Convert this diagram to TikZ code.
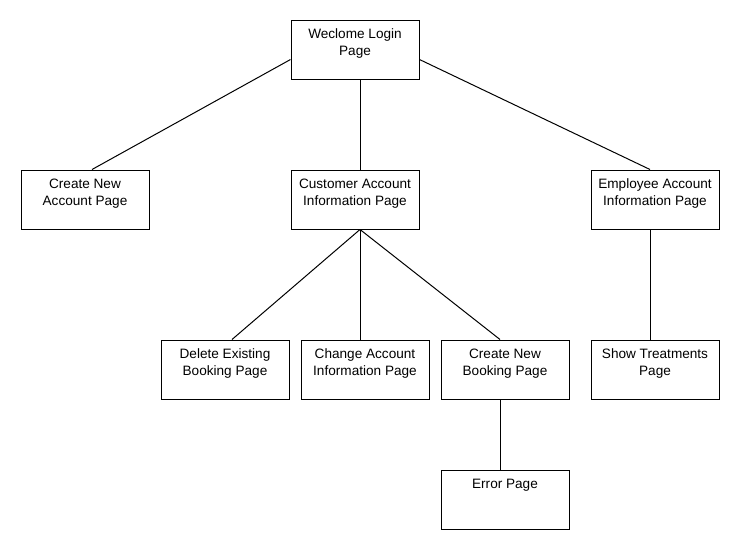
\documentclass[tikz,border=0pt]{standalone}
\usepackage{fontspec}
\setmainfont{Liberation Sans}
\usepackage{tikz}

\newcommand{\pagetext}[1]{\parbox[c][59pt][t]{128pt}{\centering\rule{0pt}{18pt}#1}}
\tikzset{pagebox/.style={draw,inner sep=0pt,line width=1pt}}

\begin{document}
\begin{tikzpicture}[x=1pt,y=-1pt,font=\fontsize{13.6}{17}\selectfont]
\useasboundingbox (0,0) rectangle (740,550);

\begin{scope}[line width=1pt]
\node[pagebox] (login) at (355,49.5) {\pagetext{Weclome Login\\Page}};
\node[pagebox] (newacct) at (85,199.5) {\pagetext{Create New\\Account Page}};
\node[pagebox] (custinfo) at (355,199.5) {\pagetext{Customer Account\\Information Page}};
\node[pagebox] (empinfo) at (655,199.5) {\pagetext{Employee Account\\Information Page}};
\node[pagebox] (delbook) at (225,369.5) {\pagetext{Delete Existing\\Booking Page}};
\node[pagebox] (chgacct) at (365,369.5) {\pagetext{Change Account\\Information Page}};
\node[pagebox] (newbook) at (505,369.5) {\pagetext{Create New\\Booking Page}};
\node[pagebox] (treat) at (655,369.5) {\pagetext{Show Treatments\\Page}};
\node[pagebox] (error) at (505,499.5) {\pagetext{Error Page}};

\draw ([yshift=-10pt]login.west) -- ([xshift=7pt]newacct.north);
\draw ([xshift=5pt]login.south) -- ([xshift=5pt]custinfo.north);
\draw ([yshift=-10pt]login.east) -- ([xshift=-5pt]empinfo.north);
\draw ([xshift=5pt]custinfo.south) -- ([xshift=7pt]delbook.north);
\draw ([xshift=5pt]custinfo.south) -- ([xshift=-5pt]chgacct.north);
\draw ([xshift=5pt]custinfo.south) -- ([xshift=-5pt]newbook.north);
\draw ([xshift=-5pt]empinfo.south) -- ([xshift=-5pt]treat.north);
\draw ([xshift=-5pt]newbook.south) -- ([xshift=-5pt]error.north);
\end{scope}
\end{tikzpicture}
\end{document}
